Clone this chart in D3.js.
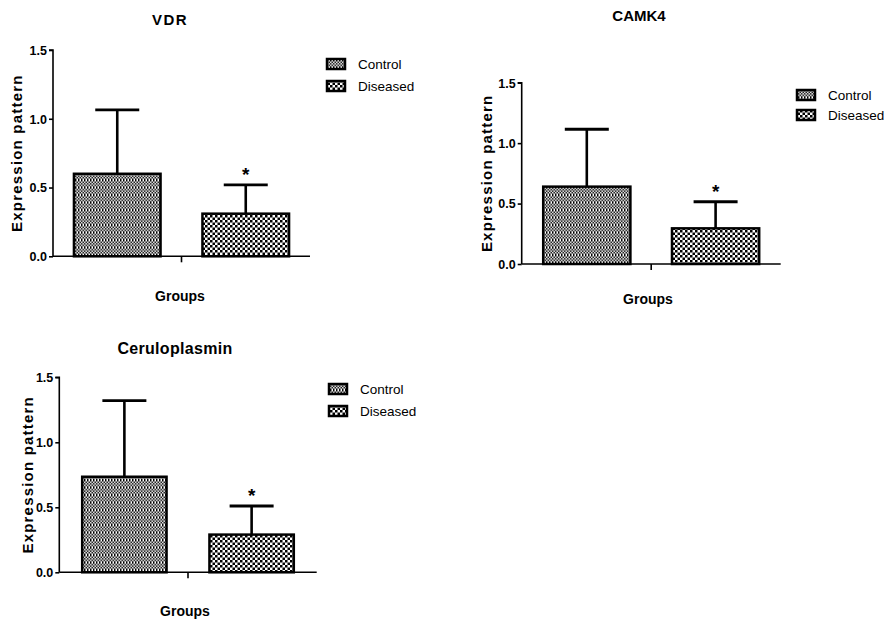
<!DOCTYPE html>
<html><head><meta charset="utf-8">
<script src="https://cdn.jsdelivr.net/npm/d3@7"></script>
<style>
html,body{margin:0;padding:0;background:#fff;}
svg{display:block;}
text{font-family:"Liberation Sans",Arial,sans-serif;fill:#000;}
</style></head>
<body>
<svg id="chart" width="887" height="621"></svg>
<script>
// ---- data ----
const groups = ["Control", "Diseased"];
const yTicks = [0, 0.5, 1.0, 1.5];
const panelTitles = ["VDR", "CAMK4", "Ceruloplasmin"];
const vdrMean = [0.60, 0.31];
const vdrSD = [0.465, 0.21];
const camk4Mean = [0.64, 0.295];
const camk4SD = [0.475, 0.22];
const ceruloMean = [0.735, 0.29];
const ceruloSD = [0.585, 0.22];
const significance = ["", "*"];

const svg = d3.select("#chart");
const defs = svg.append("defs");

// Control pattern: fine checker with white horizontal lines
const pc = defs.append("pattern").attr("id", "pControl").attr("patternUnits", "userSpaceOnUse")
  .attr("width", 3).attr("height", 7.5);
pc.append("rect").attr("width", 3).attr("height", 7.5).attr("fill", "#fff");
[[0,0],[1.5,1.5],[0,3],[1.5,4.5],[0,6]].forEach(([x,y]) =>
  pc.append("rect").attr("x", x).attr("y", y).attr("width", 1.5).attr("height", 1.5).attr("fill", "#000"));
// Diseased pattern: coarser checker
const pd = defs.append("pattern").attr("id", "pDiseased").attr("patternUnits", "userSpaceOnUse")
  .attr("width", 5).attr("height", 5);
pd.append("rect").attr("width", 5).attr("height", 5).attr("fill", "#fff");
pd.append("rect").attr("x", 0).attr("y", 0).attr("width", 2.5).attr("height", 2.5).attr("fill", "#000");
pd.append("rect").attr("x", 2.5).attr("y", 2.5).attr("width", 2.5).attr("height", 2.5).attr("fill", "#000");
const fills = ["url(#pControl)", "url(#pDiseased)"];

const panels = [
  {title: panelTitles[0], mean: vdrMean, sd: vdrSD, ax: 53, xEnd: 310, y0: 256.3, y1: 50, pi: 0.326, po: 0.163,
   titleX: 170, titleY: 25, titleSize: 15, titleSpacing: 1.5, labX: 22, groupsX: 180, groupsY: 301, legX: 327, legY: [64, 86]},
  {title: panelTitles[1], mean: camk4Mean, sd: camk4SD, ax: 521.7, xEnd: 780.7, y0: 264, y1: 82.7, pi: 0.323, po: 0.167,
   titleX: 639, titleY: 21, titleSize: 15, titleSpacing: 0, labX: 492, groupsX: 648, groupsY: 304, legX: 797, legY: [95, 115]},
  {title: panelTitles[2], mean: ceruloMean, sd: ceruloSD, ax: 59.3, xEnd: 316.7, y0: 572.3, y1: 377.3, pi: 0.337, po: 0.18,
   titleX: 175, titleY: 354, titleSize: 16, titleSpacing: 0.3, labX: 33, groupsX: 185, groupsY: 616, legX: 329, legY: [389, 411]}
];

panels.forEach(p => {
  const g = svg.append("g");
  const y = d3.scaleLinear().domain([0, 1.5]).range([p.y0, p.y1]);
  const x = d3.scaleBand().domain(groups).range([p.ax, p.xEnd]).paddingInner(p.pi).paddingOuter(p.po);

  // bars
  groups.forEach((grp, i) => {
    const bx = x(grp), bw = x.bandwidth(), cx = bx + bw / 2;
    const top = y(p.mean[i]);
    const etop = y(p.mean[i] + p.sd[i]);
    g.append("line").attr("x1", cx).attr("x2", cx).attr("y1", top).attr("y2", etop)
      .attr("stroke", "#000").attr("stroke-width", 2.6);
    g.append("line").attr("x1", cx - 22).attr("x2", cx + 22).attr("y1", etop).attr("y2", etop)
      .attr("stroke", "#000").attr("stroke-width", 2.8);
    g.append("rect").attr("x", bx).attr("y", top).attr("width", bw).attr("height", p.y0 - top)
      .attr("fill", fills[i]).attr("stroke", "#000").attr("stroke-width", 2.5);
    if (significance[i]) {
      g.append("text").attr("x", cx).attr("y", etop - 4).attr("text-anchor", "middle")
        .attr("font-size", 19).attr("font-weight", "bold").text(significance[i]);
    }
  });

  // y axis
  const yAxis = g.append("g").attr("transform", `translate(${p.ax},0)`)
    .call(d3.axisLeft(y).tickValues(yTicks).tickFormat(d3.format(".1f")).tickSize(4).tickPadding(2));
  yAxis.select(".domain").attr("stroke-width", 1.6).attr("d", `M-4,${p.y1}H0V${p.y0}`);
  yAxis.selectAll(".tick line").attr("stroke-width", 1.6);
  yAxis.selectAll(".tick text").attr("font-size", 12.5).attr("font-weight", "bold")
    .attr("font-family", "'Liberation Sans',Arial,sans-serif").attr("dy", "0.35em");

  // x axis
  const xAxis = g.append("g").attr("transform", `translate(0,${p.y0})`);
  xAxis.append("line").attr("x1", p.ax).attr("x2", p.xEnd).attr("y1", 0).attr("y2", 0)
    .attr("stroke", "#000").attr("stroke-width", 1.6);
  const mid = (p.ax + p.xEnd) / 2;
  xAxis.append("line").attr("x1", mid).attr("x2", mid).attr("y1", 0).attr("y2", 6)
    .attr("stroke", "#000").attr("stroke-width", 1.6);

  // titles
  g.append("text").attr("x", p.titleX).attr("y", p.titleY).attr("text-anchor", "middle")
    .attr("font-size", p.titleSize).attr("font-weight", "bold").attr("letter-spacing", p.titleSpacing).text(p.title);
  g.append("text").attr("transform", `translate(${p.labX},${(p.y0 + p.y1) / 2}) rotate(-90)`)
    .attr("text-anchor", "middle").attr("font-size", 15).attr("font-weight", "bold")
    .attr("letter-spacing", 1.2).text("Expression pattern");
  g.append("text").attr("x", p.groupsX).attr("y", p.groupsY).attr("text-anchor", "middle")
    .attr("font-size", 14).attr("font-weight", "bold").text("Groups");

  // legend
  groups.forEach((grp, i) => {
    g.append("rect").attr("x", p.legX).attr("y", p.legY[i] - 5).attr("width", 18).attr("height", 10)
      .attr("fill", fills[i]).attr("stroke", "#000").attr("stroke-width", 2.5);
    g.append("text").attr("x", p.legX + 31).attr("y", p.legY[i]).attr("dy", "0.35em")
      .attr("font-size", 13.5).text(grp);
  });
});
</script>
</body></html>
